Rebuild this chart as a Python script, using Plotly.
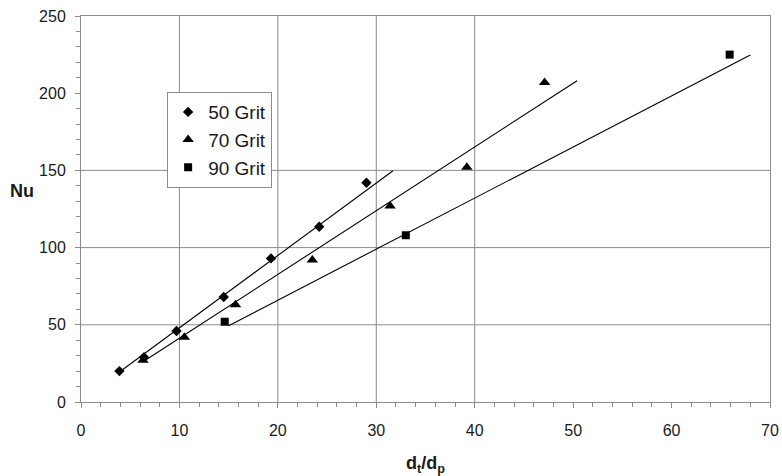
import plotly.graph_objects as go

# ---- data ----
grit50_x = [3.9, 6.4, 9.7, 14.5, 19.3, 24.2, 29.0]
grit50_y = [20, 29, 46, 68, 93, 113.5, 142]
grit70_x = [6.3, 10.5, 15.7, 23.5, 31.4, 39.2, 47.1]
grit70_y = [27, 42, 63, 92, 127, 152, 207]
grit90_x = [14.6, 33.0, 65.9]
grit90_y = [52, 108, 225]

# linear trend lines (end points)
trend50_x = [3.9, 31.7]
trend50_y = [19.4, 149.8]
trend70_x = [6.3, 50.4]
trend70_y = [26.1, 208.1]
trend90_x = [15.0, 68.0]
trend90_y = [49.4, 224.7]

series_names = ["50 Grit", "70 Grit", "90 Grit"]
x_ticks = [0, 10, 20, 30, 40, 50, 60, 70]
y_ticks = [0, 50, 100, 150, 200, 250]
grid_x = [10, 20, 30, 40]
grid_y = [50, 100, 150]

FONT = "Liberation Sans, Arial, sans-serif"
GRID = "#8c8c8c"
TXT = "#1a1a1a"

fig = go.Figure()

for tx, ty in [(trend50_x, trend50_y), (trend70_x, trend70_y), (trend90_x, trend90_y)]:
    fig.add_trace(go.Scatter(x=tx, y=ty, mode="lines", showlegend=False,
                             line=dict(color="black", width=1.1), hoverinfo="skip"))

for name, xs, ys, sym, sz in [
    (series_names[0], grit50_x, grit50_y, "diamond", 8),
    (series_names[1], grit70_x, grit70_y, "triangle-up", 10),
    (series_names[2], grit90_x, grit90_y, "square", 8),
]:
    fig.add_trace(go.Scatter(x=xs, y=ys, mode="markers", name=name,
                             marker=dict(symbol=sym, size=sz, color="black")))

shapes = []
for gx in grid_x:
    shapes.append(dict(type="line", xref="x", yref="y", x0=gx, x1=gx, y0=0, y1=250,
                       line=dict(color=GRID, width=1), layer="below"))
for gy in grid_y:
    shapes.append(dict(type="line", xref="x", yref="y", x0=0, x1=70, y0=gy, y1=gy,
                       line=dict(color=GRID, width=1), layer="below"))

axis_common = dict(
    showgrid=False, zeroline=False, showline=True, linecolor=GRID, linewidth=1,
    mirror=True, ticks="outside", ticklen=5, tickcolor=GRID, automargin=False,
    tickfont=dict(family=FONT, size=16, color=TXT),
)

fig.update_layout(
    width=782, height=476,
    margin=dict(l=81, r=12, t=16, b=74),
    paper_bgcolor="white", plot_bgcolor="white",
    font=dict(family=FONT, color=TXT),
    shapes=shapes,
    xaxis=dict(range=[0, 70], tickvals=x_ticks, ticklabelstandoff=9,
               minor=dict(ticks="outside", ticklen=4, dtick=2, tickcolor=GRID, showgrid=False),
               title=dict(text="<b>d<sub>t</sub>/d<sub>p</sub></b>",
                          font=dict(family=FONT, size=18, color=TXT), standoff=20),
               **axis_common),
    yaxis=dict(range=[0, 250], tickvals=y_ticks, ticklabelstandoff=6,
               minor=dict(ticks="outside", ticklen=4, dtick=10, tickcolor=GRID, showgrid=False),
               **axis_common),
    legend=dict(x=0.125, y=0.803, xanchor="left", yanchor="top",
                bgcolor="white", bordercolor=GRID, borderwidth=1,
                font=dict(family=FONT, size=19, color=TXT),
                itemwidth=30, tracegroupgap=0),
    annotations=[dict(text="<b>Nu</b>", xref="paper", yref="paper", x=-0.086, y=0.547,
                      xanchor="center", yanchor="middle", showarrow=False,
                      font=dict(family=FONT, size=18, color=TXT))],
)

fig.write_html("out.html")
